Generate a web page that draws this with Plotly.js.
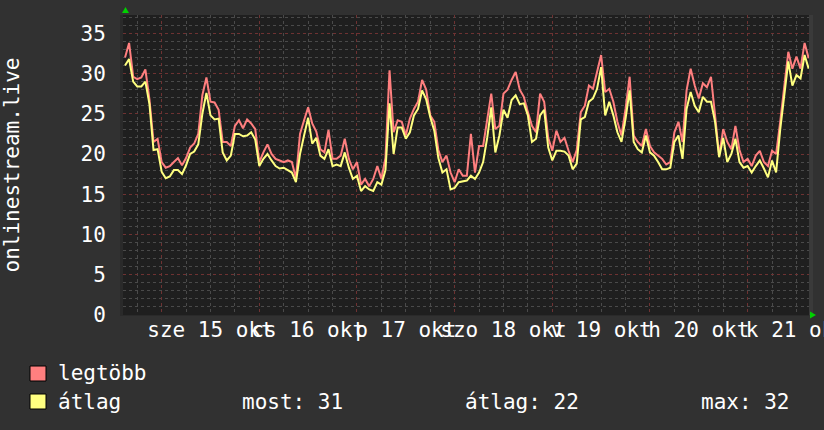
<!DOCTYPE html>
<html>
<head>
<meta charset="utf-8">
<script src="https://cdn.plot.ly/plotly-3.0.1.min.js"></script>
<style>
  html, body { margin: 0; padding: 0; background: #313131; }
  #chart { width: 824px; height: 430px; }
</style>
</head>
<body>
<div id="chart"></div>
<script>
// ---- data (hourly samples, first sample 2025-10-14 15:00) ----
const seriesStart = "2025-10-14T15:00:00Z";
const stepHours = 1;

const maxValues = [
  32.0, 33.8, 29.6, 29.3, 29.5, 30.5, 26.8, 21.5, 21.9, 19.0,
  18.3, 18.5, 19.0, 19.5, 18.6, 19.5, 20.8, 21.3, 22.5, 27.3,
  29.5, 26.5, 26.4, 25.5, 21.5, 21.5, 21.0, 23.5, 24.2, 23.2,
  24.3, 23.8, 23.1, 19.0, 20.2, 21.2, 20.0, 19.4, 19.2, 19.0,
  19.2, 19.0, 17.0, 22.5, 24.2, 25.8, 23.8, 22.8, 20.6, 20.2,
  23.0, 19.4, 19.4, 19.8, 21.9, 19.4, 18.1, 19.0, 16.2, 16.9,
  16.0, 16.9, 18.5, 16.9, 19.5, 30.4, 22.7, 24.2, 24.0, 22.3,
  24.4, 25.6, 26.5, 29.2, 28.0, 24.8, 24.0, 20.5, 19.0, 19.8,
  17.7, 16.5, 18.1, 17.3, 17.3, 22.5, 17.7, 21.0, 21.0, 24.0,
  27.5, 23.1, 23.5, 27.5, 28.0, 29.2, 30.2, 28.0, 27.1, 25.2,
  23.5, 22.7, 27.5, 26.5, 22.0, 20.4, 22.9, 21.5, 22.0, 20.4,
  19.0, 20.5, 25.2, 26.0, 28.5, 28.1, 30.4, 32.3, 27.7, 28.1,
  26.5, 24.0, 22.3, 25.6, 29.6, 22.3, 21.5, 21.0, 23.1, 21.0,
  20.2, 19.8, 19.4, 18.7, 19.0, 22.7, 24.0, 21.5, 27.9, 30.6,
  28.5, 26.9, 28.8, 28.3, 29.6, 24.8, 19.8, 23.1, 21.5, 20.6,
  23.5, 20.5, 19.0, 19.4, 18.5, 19.8, 20.4, 19.0, 18.5, 20.4,
  20.0, 24.0, 28.0, 32.7, 30.6, 32.1, 30.6, 33.8, 31.9
];

const avgValues = [
  31.0, 31.8, 29.0, 28.4, 28.4, 29.0, 26.2, 20.5, 20.6, 17.8,
  17.0, 17.2, 18.0, 18.0, 17.5, 18.6, 20.0, 20.3, 21.2, 25.0,
  27.6, 24.8, 24.3, 24.4, 20.2, 19.2, 19.8, 22.5, 22.5, 22.2,
  22.3, 22.7, 21.8, 18.5, 19.4, 20.0, 19.2, 18.5, 18.2, 18.3,
  18.0, 17.7, 16.5, 20.0, 22.3, 24.5, 21.3, 22.0, 19.8, 19.4,
  20.6, 18.5, 18.7, 18.5, 20.2, 18.3, 16.9, 17.3, 15.4, 16.0,
  15.6, 15.4, 16.5, 16.2, 18.0, 26.3, 20.0, 23.3, 23.3, 21.9,
  22.7, 24.8, 25.6, 27.9, 26.8, 24.6, 22.9, 19.5, 17.7, 18.1,
  15.6, 15.8, 16.5, 16.6, 16.7, 17.3, 16.9, 17.7, 19.0, 22.0,
  25.8, 20.2, 22.3, 25.5, 24.5, 26.7, 27.3, 26.2, 26.3, 24.8,
  21.5, 21.9, 24.8, 25.5, 20.8, 19.2, 20.4, 20.4, 20.3, 19.8,
  18.1, 18.8, 24.3, 24.6, 26.5, 26.9, 28.1, 30.8, 24.8, 26.5,
  24.8, 22.7, 21.5, 24.4, 27.9, 21.5, 20.6, 20.2, 22.3, 20.2,
  19.8, 19.0, 18.1, 18.1, 18.3, 21.5, 22.3, 19.4, 25.6, 27.7,
  26.0, 25.2, 27.1, 26.5, 26.5, 24.0, 19.6, 22.0, 19.0, 20.0,
  21.9, 19.0, 18.3, 18.5, 17.7, 18.5, 19.2, 18.2, 17.1, 19.2,
  17.7, 23.0, 27.0, 31.5, 28.5, 29.8, 29.4, 32.3, 30.6
];

const dayTickVals = [
  "2025-10-15 12:00", "2025-10-16 12:00", "2025-10-17 12:00", "2025-10-18 12:00",
  "2025-10-19 12:00", "2025-10-20 12:00", "2025-10-21 12:00"
];
const dayTickText = [
  "sze 15 okt", "cs 16 okt", "p 17 okt", "szo 18 okt", "v 19 okt", "h 20 okt", "k 21 okt"
];
const yTickVals = [0, 5, 10, 15, 20, 25, 30, 35];

const seriesNames = ["legtöbb", "átlag"];
const yAxisTitle = "onlinestream.live";
const statLabels = ["most", "átlag", "max"];

// ---- build ----
const t0 = Date.parse(seriesStart);
function fmt(ms) { return new Date(ms).toISOString().slice(0, 19).replace("T", " "); }
const times = maxValues.map((_, i) => fmt(t0 + i * stepHours * 3600000));

const nowVal = avgValues[avgValues.length - 1];
const meanVal = avgValues.reduce((a, b) => a + b, 0) / avgValues.length;
const maxVal = Math.max(...avgValues);

const FONT = "DejaVu Sans Mono";
const FS = 21;
const RED = "#ff7f7f";
const YEL = "#ffff80";

// pixel helpers for paper coordinates (plot area: x 123..809, y 15..315)
const L = 123, R = 809, T = 15, B = 315;
const px = x => (x - L) / (R - L);
const py = y => (B - y) / (B - T);

const traces = [
  { x: times, y: maxValues, type: "scatter", mode: "lines", name: seriesNames[0],
    line: { color: RED, width: 2 }, xaxis: "x", yaxis: "y", showlegend: false, hoverinfo: "skip" },
  { x: times, y: avgValues, type: "scatter", mode: "lines", name: seriesNames[1],
    line: { color: YEL, width: 2 }, xaxis: "x", yaxis: "y", showlegend: false, hoverinfo: "skip" }
];

const xRange = ["2025-10-14 14:30", "2025-10-21 15:05"];

const layout = {
  width: 824, height: 430,
  margin: { l: L, r: 824 - R, t: T, b: 430 - B, pad: 0 },
  paper_bgcolor: "#313131",
  plot_bgcolor: "#1f1f1f",
  font: { family: FONT, size: FS, color: "#ffffff" },
  showlegend: false,
  xaxis: {
    type: "date", range: xRange,
    tick0: "2025-10-15 00:00", dtick: 86400000,
    showgrid: true, gridcolor: "#6e3232", griddash: "dot", gridwidth: 1,
    minor: { dtick: 21600000, showgrid: true, gridcolor: "#4a4a4a", griddash: "dot", gridwidth: 1 },
    showticklabels: false, ticks: "", zeroline: false,
    showline: true, linecolor: "#2a2a2a", linewidth: 1
  },
  xaxis2: {
    type: "date", range: xRange, overlaying: "x", side: "bottom",
    tickmode: "array", tickvals: dayTickVals, ticktext: dayTickText,
    tickangle: 0, ticklabeloverflow: "allow",
    showgrid: false, zeroline: false, ticks: "", showline: false,
    tickfont: { family: FONT, size: FS, color: "#ffffff" }
  },
  yaxis: {
    range: [0, 37.27], tickmode: "array", tickvals: yTickVals,
    showgrid: true, gridcolor: "#6e3232", griddash: "dot", gridwidth: 1,
    minor: { dtick: 1, showgrid: true, gridcolor: "#4a4a4a", griddash: "dot", gridwidth: 1 },
    zeroline: false, ticks: "", ticklabelstandoff: 10,
    showline: true, linecolor: "#2a2a2a", linewidth: 3,
    tickfont: { family: FONT, size: FS, color: "#ffffff" },
    title: { text: yAxisTitle, standoff: 58, font: { family: FONT, size: FS, color: "#ffffff" } }
  },
  shapes: [
    { type: "rect", xref: "paper", yref: "paper", x0: px(809), x1: px(813), y0: py(315), y1: py(15),
      fillcolor: "#3a3a3a", line: { width: 0 }, layer: "below" },
    { type: "rect", xref: "paper", yref: "paper", x0: px(30), x1: px(46), y0: py(381), y1: py(366),
      fillcolor: RED, line: { color: "#000000", width: 1 } },
    { type: "rect", xref: "paper", yref: "paper", x0: px(30), x1: px(46), y0: py(409), y1: py(394),
      fillcolor: YEL, line: { color: "#000000", width: 1 } },
    { type: "path", xref: "paper", yref: "paper",
      path: `M ${px(122)},${py(13)} L ${px(129)},${py(13)} L ${px(125.5)},${py(7)} Z`,
      fillcolor: "#00d000", line: { width: 0 } },
    { type: "path", xref: "paper", yref: "paper",
      path: `M ${px(810)},${py(311.5)} L ${px(810)},${py(318.5)} L ${px(816)},${py(315)} Z`,
      fillcolor: "#00d000", line: { width: 0 } }
  ],
  annotations: [
    { text: seriesNames[0], xref: "paper", yref: "paper", x: px(56), y: py(373), xanchor: "left", yanchor: "middle", showarrow: false },
    { text: seriesNames[1], xref: "paper", yref: "paper", x: px(56), y: py(401.5), xanchor: "left", yanchor: "middle", showarrow: false },
    { text: statLabels[0] + ": " + Math.round(nowVal), xref: "paper", yref: "paper", x: px(240), y: py(401.5), xanchor: "left", yanchor: "middle", showarrow: false },
    { text: statLabels[1] + ": " + Math.round(meanVal), xref: "paper", yref: "paper", x: px(463), y: py(401.5), xanchor: "left", yanchor: "middle", showarrow: false },
    { text: statLabels[2] + ": " + Math.round(maxVal), xref: "paper", yref: "paper", x: px(699), y: py(401.5), xanchor: "left", yanchor: "middle", showarrow: false }
  ]
};

// invisible trace so xaxis2 (day labels) is drawn
traces.push({ x: [xRange[0]], y: [null], xaxis: "x2", yaxis: "y", type: "scatter", mode: "lines",
  showlegend: false, hoverinfo: "skip" });

Plotly.newPlot("chart", traces, layout, { staticPlot: true, displayModeBar: false });
</script>
</body>
</html>
